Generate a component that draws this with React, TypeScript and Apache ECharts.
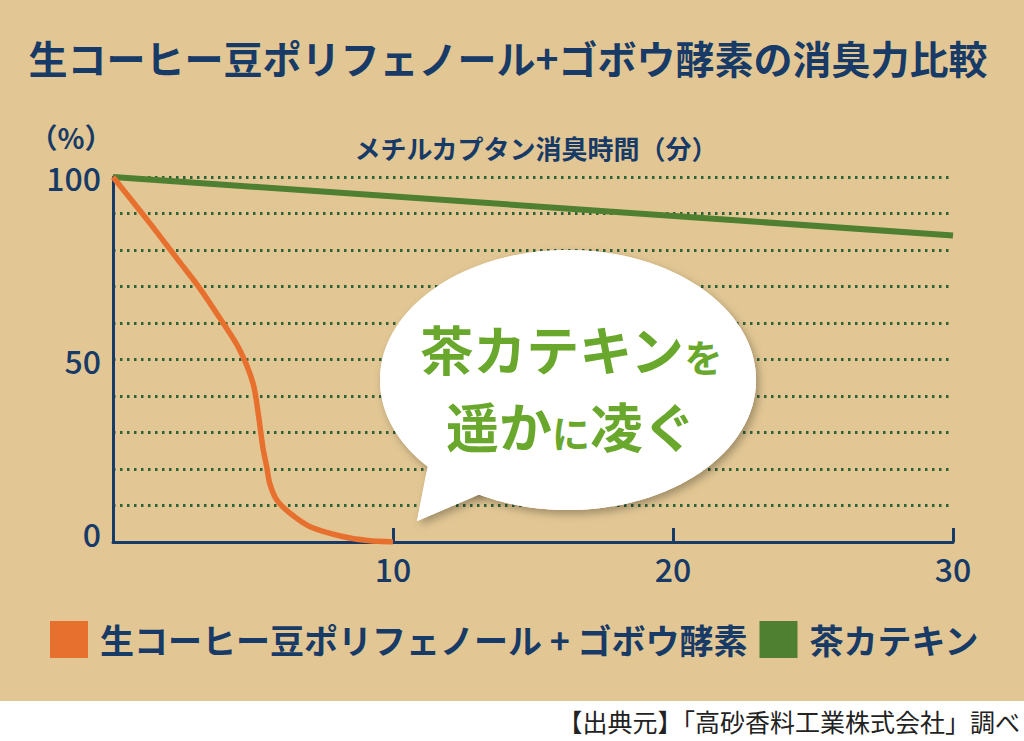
import React, { useEffect, useRef } from "react";
import * as echarts from "echarts";

const FONT = '"Noto Sans CJK JP", "Noto Sans", sans-serif';
const NAVY = "#173a66";
const ORANGE = "#e8702f";
const GREEN = "#4f7f30";
const GRID_GREEN = "#2f6139";
const BUBBLE_GREEN = "#69a82c";
const BG = "#e2c794";

const titleText = "生コーヒー豆ポリフェノール+ゴボウ酵素の消臭力比較";
const yAxisTitle = "（%）";
const xAxisTitle = "メチルカプタン消臭時間（分）";
const seriesNames = ["生コーヒー豆ポリフェノール + ゴボウ酵素", "茶カテキン"];
const sourceText = "【出典元】「高砂香料工業株式会社」調べ";

// minutes / remaining odour (%)
const coffeeTimes = [0, 1.3, 2.3, 3.1, 3.8, 4.5, 5.0, 5.2, 5.35, 5.49, 5.6, 5.85, 6.32, 7.04, 8.2, 9.1, 10];
const coffeeValues = [100, 87.5, 77.5, 69.5, 61.5, 53, 43.5, 34.5, 26, 20.6, 16, 11.5, 7.9, 4.2, 1.5, 0.4, 0];
const teaTimes = [0, 30];
const teaValues = [100, 84];

const xTicks = [0, 10, 20, 30];
const yLabelValues = [0, 50, 100];

export default function App() {
  const ref = useRef<HTMLDivElement>(null);
  useEffect(() => {
    document.body.style.margin = "0";
    if (!ref.current) return;
    const chart = echarts.init(ref.current, undefined, { renderer: "svg" });
    const coffeeData = coffeeTimes.map((t, i) => [t, coffeeValues[i]]);
    const teaData = teaTimes.map((t, i) => [t, teaValues[i]]);

    chart.setOption({
      animation: false,
      backgroundColor: BG,
      textStyle: { fontFamily: FONT },
      grid: { left: 113, right: 71, top: 177, bottom: 199, containLabel: false },
      legend: {
        data: seriesNames,
        left: 45,
        top: 616,
        icon: "rect",
        itemWidth: 38,
        itemHeight: 37,
        itemGap: 12,
        selectedMode: false,
        textStyle: {
          fontSize: 34,
          fontWeight: "bold",
          color: NAVY,
          fontFamily: FONT,
          padding: [0, 0, 0, 7],
        },
      },
      xAxis: {
        type: "value",
        min: xTicks[0],
        max: xTicks[xTicks.length - 1],
        interval: 10,
        axisLine: { show: true, lineStyle: { color: NAVY, width: 3 } },
        axisTick: { show: true, inside: true, length: 14, lineStyle: { color: NAVY, width: 3 } },
        axisLabel: {
          formatter: (v: number) => (v === 0 ? "" : String(v)),
          fontSize: 32,
          color: NAVY,
          fontFamily: FONT,
          fontWeight: 500,
          margin: 10,
        },
        splitLine: { show: false },
      },
      yAxis: {
        type: "value",
        min: 0,
        max: 100,
        interval: 10,
        axisLine: { show: true, lineStyle: { color: NAVY, width: 3 } },
        axisTick: { show: false },
        axisLabel: {
          formatter: (v: number) =>
            yLabelValues.includes(v) ? (v === 0 ? "{z|0}" : String(v)) : "",
          fontSize: 32,
          color: NAVY,
          fontFamily: FONT,
          fontWeight: 500,
          margin: 12,
          rich: {
            z: { fontSize: 32, color: NAVY, fontFamily: FONT, fontWeight: 500, padding: [0, 0, 18, 0] },
          },
        },
        splitLine: {
          show: true,
          lineStyle: { color: GRID_GREEN, width: 3, type: [2.5, 4.5] },
        },
      },
      series: [
        {
          name: seriesNames[1],
          type: "line",
          data: teaData,
          symbol: "none",
          lineStyle: { color: GREEN, width: 6 },
          itemStyle: { color: GREEN },
          z: 3,
        },
        {
          name: seriesNames[0],
          type: "line",
          data: coffeeData,
          symbol: "none",
          smooth: 0.3,
          lineStyle: { color: ORANGE, width: 5.5 },
          itemStyle: { color: ORANGE },
          z: 4,
        },
      ],
      graphic: [
        {
          type: "text",
          x: 508,
          y: 57,
          style: {
            text: titleText,
            fill: NAVY,
            fontSize: 39,
            fontWeight: "bold",
            fontFamily: FONT,
            align: "center",
            verticalAlign: "middle",
          },
        },
        {
          type: "text",
          x: 71,
          y: 137,
          style: {
            text: yAxisTitle,
            fill: NAVY,
            fontSize: 28,
            fontWeight: "bold",
            fontFamily: FONT,
            align: "center",
            verticalAlign: "middle",
          },
        },
        {
          type: "text",
          x: 536,
          y: 147,
          style: {
            text: xAxisTitle,
            fill: NAVY,
            fontSize: 26,
            fontWeight: "bold",
            fontFamily: FONT,
            align: "center",
            verticalAlign: "middle",
          },
        },
        // bubble shadow layer
        {
          type: "polygon",
          z: 100,
          shape: { points: [[430, 455], [417, 521], [485, 492]] },
          style: { fill: "#ffffff", shadowBlur: 8, shadowOffsetX: 3, shadowOffsetY: 4, shadowColor: "rgba(0,0,0,0.3)" },
        },
        {
          type: "ellipse",
          z: 100,
          shape: { cx: 568, cy: 380, rx: 188, ry: 130 },
          style: { fill: "#ffffff", shadowBlur: 8, shadowOffsetX: 3, shadowOffsetY: 4, shadowColor: "rgba(0,0,0,0.3)" },
        },
        // bubble white layer
        {
          type: "polygon",
          z: 101,
          shape: { points: [[430, 455], [417, 521], [485, 492]] },
          style: { fill: "#ffffff" },
        },
        {
          type: "ellipse",
          z: 101,
          shape: { cx: 568, cy: 380, rx: 188, ry: 130 },
          style: { fill: "#ffffff" },
        },
        {
          type: "text",
          z: 102,
          x: 571,
          y: 374,
          style: {
            text: "{a|茶カテキン}{b|を}\n{a|遥か}{b|に}{a|凌ぐ}",
            fill: BUBBLE_GREEN,
            fontFamily: FONT,
            fontWeight: "bold",
            fontSize: 53,
            align: "center",
            verticalAlign: "middle",
            rich: {
              a: { fill: BUBBLE_GREEN, fontSize: 53, fontWeight: "bold", fontFamily: FONT, lineHeight: 77, verticalAlign: "bottom" },
              b: { fill: BUBBLE_GREEN, fontSize: 38, fontWeight: "bold", fontFamily: FONT, lineHeight: 56, verticalAlign: "bottom" },
            },
          },
        },
        {
          type: "rect",
          shape: { x: 0, y: 701, width: 1024, height: 40 },
          style: { fill: "#ffffff" },
        },
        {
          type: "text",
          x: 1020,
          y: 721,
          style: {
            text: sourceText,
            fill: "#222222",
            fontSize: 25,
            fontFamily: FONT,
            align: "right",
            verticalAlign: "middle",
          },
        },
      ],
    });
    return () => chart.dispose();
  }, []);
  return <div ref={ref} style={{ width: 1024, height: 741 }} />;
}
